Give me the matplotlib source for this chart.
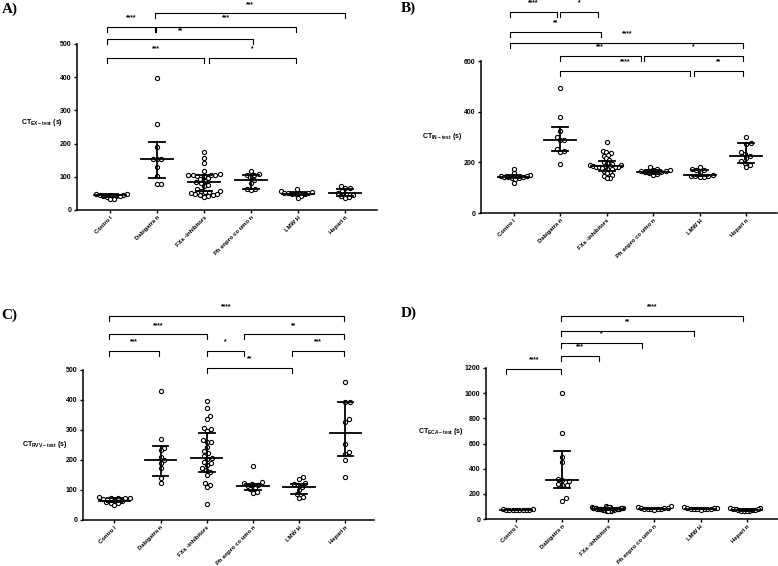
import numpy as np
import matplotlib
matplotlib.use("Agg")
import matplotlib.pyplot as plt

plt.rcParams["font.family"] = ["Liberation Sans", "DejaVu Sans"]
plt.rcParams["font.weight"] = "bold"
plt.rcParams["mathtext.fontset"] = "custom"
plt.rcParams["mathtext.rm"] = "Liberation Sans:bold"
plt.rcParams["mathtext.default"] = "rm"

groups = ["Contro l", "Dabigatra n", "FXa -inhibitors", "Ph enpro co umo n", "LMW H", "Hepari n"]

# ---- A) EX-test
A_control = [48, 47, 46, 45, 44, 43, 42, 41, 40, 33, 32]
A_dabigatran = [397, 258, 189, 155, 155, 155, 130, 101, 79, 79]
A_fxa = [174, 156, 141, 116, 107, 106, 106, 105, 104, 103, 102, 96, 93, 86, 83,
         80, 76, 71, 64, 58, 56, 54, 53, 50, 48, 47, 45, 44, 41, 40]
A_phen = [118, 108, 106, 105, 99, 91, 81, 64, 62, 61]
A_lmwh = [64, 57, 54, 52, 51, 50, 50, 49, 48, 47, 42, 37]
A_heparin = [71, 66, 65, 56, 51, 49, 46, 42, 38, 36]
A_median = [44, 155, 83, 91, 49, 51]
A_q1 = [39, 95, 56, 64, 45, 41]
A_q3 = [47, 205, 106, 104, 55, 64]
A_sig = [(-0.06, 0.95, "****", 552), (0.99, 3.96, "***", 552), (0.95, 5.0, "***", 592),
         (-0.06, 3.05, "**", 514), (-0.06, 2.0, "***", 459), (2.11, 3.96, "*", 459)]

# ---- B) IN-test
B_control = [175, 158, 150, 147, 145, 143, 142, 141, 139, 137, 135, 120]
B_dabigatran = [495, 378, 325, 300, 289, 287, 254, 243, 241, 193]
B_fxa = [280, 246, 240, 236, 230, 224, 217, 208, 201, 197, 193, 190, 188, 186, 185,
         184, 183, 182, 181, 180, 178, 175, 172, 167, 162, 158, 150, 145, 140, 138]
B_phen = [180, 175, 171, 168, 166, 164, 162, 160, 157, 154, 150]
B_lmwh = [180, 175, 171, 168, 160, 150, 148, 146, 145, 143, 141]
B_heparin = [300, 276, 272, 241, 233, 226, 217, 204, 197, 191, 180]
B_median = [143, 288, 184, 162, 149, 225]
B_q1 = [137, 243, 167, 154, 145, 197]
B_q3 = [149, 338, 204, 171, 168, 276]
B_sig = [(-0.07, 0.93, "****", 795), (0.99, 1.82, "*", 795), (-0.07, 1.87, "**", 716),
         (-0.07, 4.94, "****", 672), (0.99, 2.73, "***", 620), (2.80, 4.94, "*", 620),
         (0.99, 3.79, "****", 561), (3.87, 4.94, "**", 561)]

# ---- C) RVV-test
C_control = [77, 75, 74, 73, 72, 70, 65, 63, 61, 58, 56, 50]
C_dabigatran = [431, 271, 241, 233, 211, 199, 189, 172, 139, 122]
C_fxa = [398, 374, 347, 336, 308, 302, 297, 266, 261, 259, 244, 230, 222, 213,
         206, 203, 194, 189, 183, 172, 167, 161, 150, 122, 117, 109, 52]
C_phen = [180, 126, 122, 119, 117, 114, 108, 103, 94, 91]
C_lmwh = [142, 137, 122, 119, 117, 111, 100, 87, 78, 74]
C_heparin = [459, 394, 394, 337, 328, 252, 226, 219, 200, 144]
C_median = [63, 200, 208, 114, 111, 290]
C_q1 = [59, 148, 159, 100, 86, 213]
C_q3 = [72, 248, 289, 119, 119, 394]
C_sig = [(-0.11, 4.97, "****", 680), (-0.11, 2.0, "****", 619), (2.81, 4.97, "**", 619),
         (-0.11, 0.96, "***", 565), (2.0, 2.81, "*", 565), (3.84, 4.97, "***", 565),
         (2.0, 3.84, "**", 508)]

# ---- D) ECA-test
D_control = [78, 76, 75, 74, 73, 72, 71, 70, 69, 68]
D_dabigatran = [1003, 680, 495, 455, 320, 308, 300, 275, 272, 270, 164, 145]
D_fxa = [100, 98, 95, 93, 92, 90, 88, 87, 86, 85, 84, 83, 82, 81, 80, 79, 78, 77,
         76, 75, 74, 72, 70, 68, 66, 64, 62, 60]
D_phen = [102, 95, 88, 86, 84, 82, 80, 79, 78, 77, 75]
D_lmwh = [92, 90, 88, 85, 82, 80, 79, 78, 77, 76, 75]
D_heparin = [90, 85, 82, 80, 76, 72, 70, 68, 66, 65, 62, 60]
D_median = [73, 307, 80, 80, 79, 70]
D_q1 = [70, 243, 74, 78, 77, 65]
D_q3 = [75, 540, 87, 86, 85, 80]
D_sig = [(0.98, 4.92, "****", 1611), (0.98, 3.86, "**", 1497), (0.98, 2.74, "*", 1397),
         (0.98, 1.80, "***", 1298), (-0.21, 0.98, "****", 1195)]


def swarm(ypx, d):
    # simple beeswarm: put each point at the smallest offset that does not overlap
    order = np.argsort(ypx)
    placed = []
    off = np.zeros(len(ypx))
    for i in order:
        y = ypx[i]
        cands = [0.0]
        for px, py in placed:
            dy = y - py
            if abs(dy) < d:
                dx = np.sqrt(d * d - dy * dy)
                cands += [px + dx, px - dx]
        cands.sort(key=abs)
        for c in cands:
            if all((c - px) ** 2 + (y - py) ** 2 >= d * d - 1e-6 for px, py in placed):
                break
        placed.append((c, y))
        off[i] = c
    return off


fig = plt.figure(figsize=(7.78, 5.66), dpi=100)
W, H = 778, 566


def panel(rect, data, med, q1, q3, sig, ymax, yticks, sub, xlim, lab_xy):
    l, t, r, b = rect
    ax = fig.add_axes([l / W, 1 - b / H, (r - l) / W, (b - t) / H])
    ax.set_xlim(*xlim)
    ax.set_ylim(0, ymax)
    px_per_cat = (r - l) / (xlim[1] - xlim[0])
    px_per_unit = (b - t) / ymax

    for i, vals in enumerate(data):
        vals = np.array(vals, dtype=float)
        off = swarm(vals * px_per_unit, 4.4) / px_per_cat
        cap = 0.36
        if np.abs(off).max() > cap:
            off = off * cap / np.abs(off).max()
        ax.scatter(i + off, vals, s=9, facecolor="white", edgecolor="black",
                   linewidth=0.8, zorder=3, clip_on=False)
        ax.plot([i - 0.34, i + 0.34], [med[i], med[i]], color="black", lw=1.3, zorder=4)
        ax.plot([i - 0.17, i + 0.17], [q1[i], q1[i]], color="black", lw=1.3, zorder=4)
        ax.plot([i - 0.17, i + 0.17], [q3[i], q3[i]], color="black", lw=1.3, zorder=4)
        ax.plot([i, i], [q1[i], q3[i]], color="black", lw=1.3, zorder=4)

    leg = 5 / px_per_unit
    for x0, x1, txt, y in sig:
        ax.plot([x0, x0, x1, x1], [y - leg, y, y, y - leg], color="black", lw=0.8,
                clip_on=False)
        ax.annotate(txt, xy=((x0 + x1) / 2, y), xytext=(0, 4), textcoords="offset points",
                    ha="center", va="bottom", fontsize=4.8, fontweight="bold",
                    annotation_clip=False)

    for s in ["top", "right"]:
        ax.spines[s].set_visible(False)
    for s in ["left", "bottom"]:
        ax.spines[s].set_linewidth(1.1)
    ax.set_yticks(yticks)
    ax.set_xticks(range(len(groups)))
    ax.set_xticklabels(groups, rotation=45, ha="right", rotation_mode="anchor")
    ax.tick_params(axis="both", width=1.0, length=2.5, pad=1.5)
    ax.tick_params(axis="y", labelsize=5)
    ax.tick_params(axis="x", labelsize=4.2, pad=1)
    ax.text(lab_xy[0], lab_xy[1], "CT$_{%s}$ (s)" % sub, transform=ax.transAxes,
            ha="right", va="center", fontsize=5)
    return ax


panel((77, 44, 377, 210),
      [A_control, A_dabigatran, A_fxa, A_phen, A_lmwh, A_heparin],
      A_median, A_q1, A_q3, A_sig, 500, range(0, 501, 100), "EX-test",
      (-0.70, 5.68), (-0.047, 0.53))
panel((481, 61, 777, 213),
      [B_control, B_dabigatran, B_fxa, B_phen, B_lmwh, B_heparin],
      B_median, B_q1, B_q3, B_sig, 600, range(0, 601, 200), "IN-test",
      (-0.70, 5.66), (-0.064, 0.50))
panel((83, 370, 374, 520),
      [C_control, C_dabigatran, C_fxa, C_phen, C_lmwh, C_heparin],
      C_median, C_q1, C_q3, C_sig, 500, range(0, 501, 100), "RVV-test",
      (-0.68, 5.62), (-0.052, 0.50))
panel((486, 368, 778, 519),
      [D_control, D_dabigatran, D_fxa, D_phen, D_lmwh, D_heparin],
      D_median, D_q1, D_q3, D_sig, 1200, range(0, 1201, 200), "ECA-test",
      (-0.65, 5.68), (-0.075, 0.58))

for txt, x, y in [("A)", 2, 3), ("B)", 401, 2), ("C)", 1, 309), ("D)", 401, 307)]:
    fig.text(x / W, 1 - y / H, txt, fontfamily="Liberation Serif", fontweight="bold",
             fontsize=11, ha="left", va="top")

fig.savefig("out.png", dpi=100)
